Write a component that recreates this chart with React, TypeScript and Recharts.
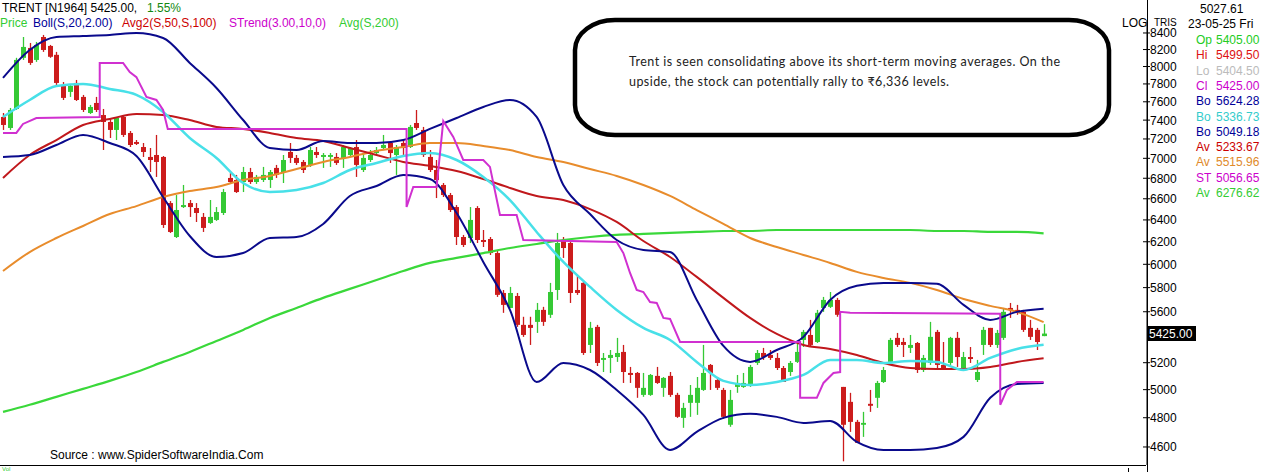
import React from 'react';
import { ComposedChart, Bar, Line, XAxis, YAxis } from 'recharts';

// daily candles, oldest first (last one is 23-05-25)
const OPEN = [7434, 7316, 7521, 8102, 8219, 8077, 8351, 8243, 8137, 7788, 7710, 7811, 7654, 7477, 7587, 7455, 7380, 7295, 7434, 7263, 7168, 7116, 7014, 7034, 7014, 6559, 6243, 6521, 6559, 6512, 6428, 6372, 6400, 6465, 6803, 6783, 6763, 6862, 6763, 6783, 6783, 6903, 6862, 7065, 7004, 6963, 6933, 7065, 7014, 7014, 7014, 7004, 7034, 7116, 6882, 6983, 7054, 7106, 7158, 7034, 7158, 7116, 7369, 7295, 7014, 6882, 6734, 6636, 6521, 6243, 6234, 6512, 6216, 6225, 6099, 5755, 5631, 5730, 5494, 5494, 5518, 5615, 5575, 5780, 6216, 6189, 5780, 5840, 5336, 5478, 5221, 5236, 5243, 5282, 5123, 5123, 4962, 4962, 5101, 5013, 5101, 4962, 4799, 4905, 4905, 4998, 5183, 5071, 4998, 4751, 5020, 5020, 5034, 5198, 5274, 5259, 5236, 5160, 5130, 5206, 5375, 5414, 5359, 5631, 5640, 5697, 5020, 4912, 4771, 4751, 4898, 4941, 5056, 5206, 5391, 5359, 5313, 5351, 5145, 5198, 5438, 5183, 5198, 5391, 5160, 5243, 5071, 5336, 5470, 5336, 5391, 5631, 5615, 5599, 5470, 5454, 5405];
const HIGH = [7477, 7532, 8102, 8351, 8279, 8291, 8376, 8255, 8172, 7822, 7788, 7845, 7676, 7565, 7654, 7521, 7423, 7434, 7455, 7284, 7189, 7158, 7106, 7242, 7024, 6578, 6636, 6734, 6588, 6559, 6465, 6588, 6521, 6695, 6852, 6833, 6913, 6903, 6833, 6913, 6882, 6933, 7034, 7158, 7034, 6983, 7116, 7116, 7054, 7054, 7054, 7137, 7116, 7189, 7054, 7085, 7116, 7242, 7168, 7137, 7189, 7348, 7510, 7327, 7085, 6983, 6753, 6656, 6540, 6262, 6521, 6530, 6307, 6243, 6117, 5780, 5806, 5755, 5559, 5559, 5672, 5640, 5840, 6280, 6243, 6198, 5908, 5848, 5518, 5494, 5274, 5297, 5391, 5336, 5168, 5130, 5123, 5115, 5168, 5093, 5130, 4977, 4905, 5034, 5093, 5336, 5190, 5093, 5013, 4998, 5108, 5123, 5183, 5297, 5313, 5297, 5274, 5175, 5213, 5359, 5454, 5534, 5615, 5722, 5763, 5714, 5020, 4977, 4785, 4841, 4998, 5064, 5168, 5391, 5430, 5391, 5414, 5359, 5259, 5518, 5454, 5359, 5399, 5438, 5282, 5320, 5221, 5478, 5470, 5454, 5631, 5672, 5656, 5615, 5534, 5470, 5499.5];
const LOW = [7295, 7295, 7510, 8077, 8019, 8054, 8172, 8102, 7788, 7620, 7654, 7609, 7488, 7466, 7488, 7085, 7210, 7189, 7221, 7116, 7137, 7014, 6862, 6813, 6326, 6280, 6234, 6512, 6428, 6381, 6289, 6363, 6391, 6446, 6744, 6656, 6665, 6744, 6744, 6763, 6705, 6803, 6753, 6953, 6933, 6852, 6913, 7004, 6903, 6913, 6933, 6903, 7014, 6813, 6862, 6963, 7034, 7085, 6953, 6833, 7034, 7106, 7295, 7014, 6862, 6607, 6617, 6474, 6171, 6153, 6189, 6189, 6153, 6082, 5722, 5591, 5631, 5478, 5399, 5336, 5430, 5486, 5550, 5697, 6056, 5672, 5739, 5259, 5274, 5175, 5130, 5123, 5206, 5049, 5049, 4941, 4948, 4955, 5042, 4948, 4948, 4799, 4730, 4806, 4820, 4991, 4998, 4998, 4792, 4737, 4977, 5013, 5020, 5183, 5221, 5221, 5145, 5056, 5101, 5198, 5320, 5320, 5351, 5599, 5631, 5559, 4505, 4702, 4628, 4668, 4841, 4869, 5049, 5198, 5320, 5243, 5274, 5123, 5130, 5183, 5145, 5145, 5183, 5168, 5145, 5198, 5056, 5259, 5320, 5313, 5375, 5550, 5575, 5438, 5375, 5297, 5404.5];
const CLOSE = [7348, 7510, 8077, 8231, 8042, 8255, 8195, 8114, 7811, 7643, 7777, 7620, 7510, 7543, 7510, 7380, 7295, 7423, 7242, 7137, 7148, 7065, 6983, 6963, 6353, 6289, 6493, 6540, 6521, 6465, 6326, 6428, 6474, 6665, 6763, 6665, 6862, 6763, 6813, 6833, 6862, 6833, 6983, 7004, 6953, 6882, 7085, 7034, 7034, 7034, 6953, 7116, 7106, 6933, 7004, 7034, 7085, 7137, 7054, 7116, 7106, 7327, 7316, 7034, 6882, 6783, 6636, 6493, 6243, 6171, 6400, 6216, 6198, 6099, 5739, 5656, 5755, 5494, 5414, 5470, 5615, 5518, 5763, 6189, 6144, 5755, 5755, 5274, 5470, 5198, 5236, 5259, 5274, 5130, 5108, 5013, 5013, 5108, 5049, 5086, 4962, 4806, 4869, 4962, 5013, 5123, 5123, 5013, 4806, 4926, 5049, 5049, 5168, 5274, 5243, 5236, 5160, 5056, 5198, 5282, 5438, 5336, 5591, 5697, 5697, 5575, 4751, 4771, 4628, 4764, 4884, 5049, 5145, 5375, 5336, 5336, 5336, 5145, 5236, 5399, 5183, 5160, 5391, 5243, 5243, 5228, 5130, 5454, 5336, 5430, 5599, 5615, 5591, 5454, 5399, 5359, 5425];

// indicator readings, taken every 4th session
const LINE_IDX = [0, 4, 8, 12, 16, 20, 24, 28, 32, 36, 40, 44, 48, 52, 56, 60, 64, 68, 72, 76, 80, 84, 88, 92, 96, 100, 104, 108, 112, 116, 120, 124, 128, 132, 136, 140, 144, 148, 152, 156];
const BOLL_UP = [7868, 8195, 8351, 8363, 8376, 8400, 8339, 8042, 7754, 7401, 7106, 7085, 7179, 7158, 7158, 7189, 7306, 7423, 7543, 7620, 7434, 6734, 6455, 6216, 6126, 6108, 5697, 5328, 5206, 5297, 5399, 5697, 5815, 5840, 5840, 5832, 5656, 5534, 5599, 5624.28];
const BOLL_MID = [7434, 7620, 7777, 7800, 7743, 7676, 7488, 7210, 7004, 6753, 6665, 6685, 6753, 6882, 6953, 7024, 7054, 6983, 6813, 6588, 6289, 6021, 5806, 5615, 5470, 5375, 5206, 5064, 5034, 5056, 5108, 5221, 5221, 5198, 5213, 5206, 5145, 5236, 5305, 5336.73];
const BOLL_LOW = [7014, 7034, 7137, 7242, 7158, 7024, 6617, 6252, 6064, 6099, 6234, 6243, 6363, 6627, 6724, 6833, 6793, 6465, 6021, 5615, 5056, 5198, 5145, 4998, 4820, 4580, 4702, 4799, 4827, 4806, 4764, 4778, 4634, 4580, 4580, 4593, 4668, 4941, 5042, 5049.18];
const AVG_50 = [6803, 7034, 7189, 7348, 7412, 7466, 7455, 7401, 7327, 7306, 7263, 7210, 7179, 7106, 7034, 6963, 6923, 6872, 6793, 6705, 6627, 6588, 6502, 6381, 6207, 6064, 5891, 5714, 5550, 5422, 5336, 5305, 5259, 5198, 5160, 5153, 5153, 5168, 5206, 5233.67];
const AVG_100 = [5942, 6108, 6234, 6344, 6455, 6530, 6617, 6675, 6714, 6783, 6823, 6892, 6963, 7014, 7075, 7116, 7158, 7158, 7127, 7085, 7014, 6963, 6892, 6823, 6734, 6627, 6493, 6363, 6234, 6153, 6082, 6012, 5934, 5882, 5840, 5780, 5705, 5648, 5599, 5515.96];
const AVG_200 = [4841, 4891, 4948, 5006, 5064, 5130, 5206, 5282, 5367, 5454, 5550, 5631, 5714, 5789, 5865, 5942, 6012, 6056, 6099, 6144, 6180, 6216, 6243, 6262, 6271, 6280, 6289, 6298, 6298, 6307, 6307, 6307, 6307, 6307, 6307, 6298, 6298, 6289, 6289, 6276.62];

// supertrend break points (session index, level)
const ST_IDX = [0, 2, 3, 5, 14.5, 14.5, 18, 19, 20, 21.5, 23, 24, 24.7, 60.5, 60.5, 61.5, 65, 66, 67.5, 69, 72, 73, 74.5, 77, 78, 92, 93, 94, 95, 96, 97, 98, 99, 100, 101.5, 119.5, 119.5, 122, 123, 124.5, 125.5, 125.5, 127, 149.5, 149.5, 150.5, 152, 156];
const ST_VAL = [7263, 7263, 7359, 7423, 7434, 8042, 8042, 7935, 7878, 7654, 7620, 7510, 7306, 7306, 6521, 6714, 6714, 7390, 7221, 6983, 6983, 6913, 6446, 6446, 6216, 6198, 6099, 5925, 5780, 5763, 5680, 5672, 5550, 5542, 5359, 5359, 4941, 4941, 5049, 5123, 5130, 5599, 5591, 5583, 4891, 4998, 5056, 5056.65];

const Y_TICKS = [4600, 4800, 5000, 5200, 5600, 5800, 6000, 6200, 6400, 6600, 6800, 7000, 7200, 7400, 7600, 7800, 8000, 8200, 8400];

const PANEL = [
  { k: 'Op', v: '5405.00', c: '#22cc22' },
  { k: 'Hi', v: '5499.50', c: '#dd1111' },
  { k: 'Lo', v: '5404.50', c: '#bbbbbb' },
  { k: 'Cl', v: '5425.00', c: '#cc00cc' },
  { k: 'Bo', v: '5624.28', c: '#000099' },
  { k: 'Bo', v: '5336.73', c: '#33cccc' },
  { k: 'Bo', v: '5049.18', c: '#000099' },
  { k: 'Av', v: '5233.67', c: '#cc0000' },
  { k: 'Av', v: '5515.96', c: '#e08a2a' },
  { k: 'ST', v: '5056.65', c: '#cc00cc' },
  { k: 'Av', v: '6276.62', c: '#33cc33' },
];

const UP_C = '#35c935';
const DOWN_C = '#cc1c1c';
const FONT = 'Liberation Sans, Arial, sans-serif';

const candles = OPEN.map((o, i) => ({
  i,
  open: o,
  high: HIGH[i],
  low: LOW[i],
  close: CLOSE[i],
  range: [LOW[i], HIGH[i]],
}));

const toLine = (vals: number[]) => LINE_IDX.map((i, k) => ({ i, v: vals[k] }));
const stData = ST_IDX.map((i, k) => ({ i, v: ST_VAL[k] }));

const Candle = (props: any) => {
  const { x, y, width, height, payload } = props;
  if (x == null || y == null || !payload) return null;
  const top = Math.min(y, y + height);
  const h = Math.abs(height);
  const { open, close, high, low } = payload;
  const span = Math.log(high / low) || 1;
  const py = (v: number) => top + (h * Math.log(high / v)) / span;
  const color = close >= open ? UP_C : DOWN_C;
  const cx = Math.round(x + width / 2) + 0.5;
  const b1 = py(Math.max(open, close));
  const b2 = py(Math.min(open, close));
  return (
    <g>
      <line x1={cx} x2={cx} y1={top} y2={top + h} stroke={color} strokeWidth={1.3} />
      <rect x={cx - 2.5} y={b1} width={5} height={Math.max(1.5, b2 - b1)} fill={color} />
    </g>
  );
};

const PriceTick = (props: any) => {
  const { x, y, payload } = props;
  return (
    <g>
      <line x1={x - 4} x2={x + 3} y1={y} y2={y} stroke="#000" />
      <text x={x + 3} y={y + 4.5} fontSize={12} fontFamily={FONT} fill="#000">
        {payload.value}
      </text>
    </g>
  );
};

export default function App() {
  return (
    <div style={{ position: 'absolute', left: 0, top: 0, width: 1266, height: 472, background: '#fff', overflow: 'hidden' }}>
      <ComposedChart width={1266} height={472} data={candles} margin={{ top: 20, right: 0, bottom: 7, left: 0 }}>
        <XAxis dataKey="i" type="number" domain={[-0.45, 171.5]} allowDataOverflow hide />
        <YAxis
          orientation="right"
          width={119}
          scale="log"
          domain={[4481, 8560]}
          allowDataOverflow
          ticks={Y_TICKS}
          interval={0}
          tickLine={false}
          tickSize={0}
          tickMargin={0}
          axisLine={{ stroke: '#000' }}
          tick={<PriceTick />}
        />
        <Line data={toLine(AVG_200)} dataKey="v" type="monotone" stroke="#3ad83a" strokeWidth={2.2} dot={false} isAnimationActive={false} />
        <Line data={toLine(AVG_100)} dataKey="v" type="monotone" stroke="#e88c2c" strokeWidth={2} dot={false} isAnimationActive={false} />
        <Line data={toLine(AVG_50)} dataKey="v" type="monotone" stroke="#c0181c" strokeWidth={2} dot={false} isAnimationActive={false} />
        <Line data={toLine(BOLL_MID)} dataKey="v" type="monotone" stroke="#48e0e8" strokeWidth={2.5} dot={false} isAnimationActive={false} />
        <Line data={toLine(BOLL_UP)} dataKey="v" type="monotone" stroke="#0a0a8c" strokeWidth={2} dot={false} isAnimationActive={false} />
        <Line data={toLine(BOLL_LOW)} dataKey="v" type="monotone" stroke="#0a0a8c" strokeWidth={2} dot={false} isAnimationActive={false} />
        <Line data={stData} dataKey="v" type="linear" stroke="#d030d0" strokeWidth={2} dot={false} isAnimationActive={false} />
        <Bar dataKey="range" barSize={5} shape={<Candle />} isAnimationActive={false} />
      </ComposedChart>

      <svg width={1266} height={472} style={{ position: 'absolute', left: 0, top: 0, pointerEvents: 'none' }}>
        <line x1={1147.5} x2={1147.5} y1={0} y2={472} stroke="#000" />
        <line x1={0} x2={1146} y1={465.5} y2={465.5} stroke="#000" />
        <line x1={1128.5} x2={1128.5} y1={468} y2={472} stroke="#000" />

        <g fontFamily={FONT} fontSize={12}>
          <text x={2} y={12} fill="#000">TRENT [N1964] 5425.00,</text>
          <text x={147} y={12} fill="#118811">1.55%</text>
          <text x={0} y={27} fill="#33cc33">Price</text>
          <text x={33} y={27} fill="#000099">Boll(S,20,2.00)</text>
          <text x={122} y={27} fill="#cc0000">Avg2(S,50,S,100)</text>
          <text x={229} y={27} fill="#cc00cc">STrend(3.00,10,0)</text>
          <text x={339} y={27} fill="#33cc33">Avg(S,200)</text>

          <text x={1122} y={27} fill="#000">LOG</text>
          <text x={1154} y={26} fill="#000" fontSize={10}>TRIS</text>
          <text x={1200} y={13} fill="#000">5027.61</text>
          <text x={1188} y={28} fill="#000">23-05-25 Fri</text>
          {PANEL.map((r, k) => (
            <g key={k}>
              <text x={1196} y={44 + k * 15.3} fill={r.c}>{r.k}</text>
              <text x={1216} y={44 + k * 15.3} fill={r.c}>{r.v}</text>
            </g>
          ))}

          <rect x={1148} y={326} width={48} height={15} fill="#000" />
          <text x={1149} y={338} fill="#fff">5425.00</text>

          <text x={50} y={459} fill="#000">Source : www.SpiderSoftwareIndia.Com</text>
          <text x={2} y={471} fill="#33cc33" fontSize={6}>Vol</text>
        </g>

        <rect x={575} y={20} width={534} height={115} rx={40} ry={30} fill="#fff" stroke="#000" strokeWidth={4.5} />
        <g fontFamily="Lato, Open Sans, sans-serif" fontSize={12.5} fill="#222">
          <text x={629} y={66} textLength={431}>Trent is seen consolidating above its short-term moving averages. On the</text>
          <text x={629} y={86} textLength={320}>upside, the stock can potentially rally to ₹6,336 levels.</text>
        </g>
      </svg>
    </div>
  );
}
